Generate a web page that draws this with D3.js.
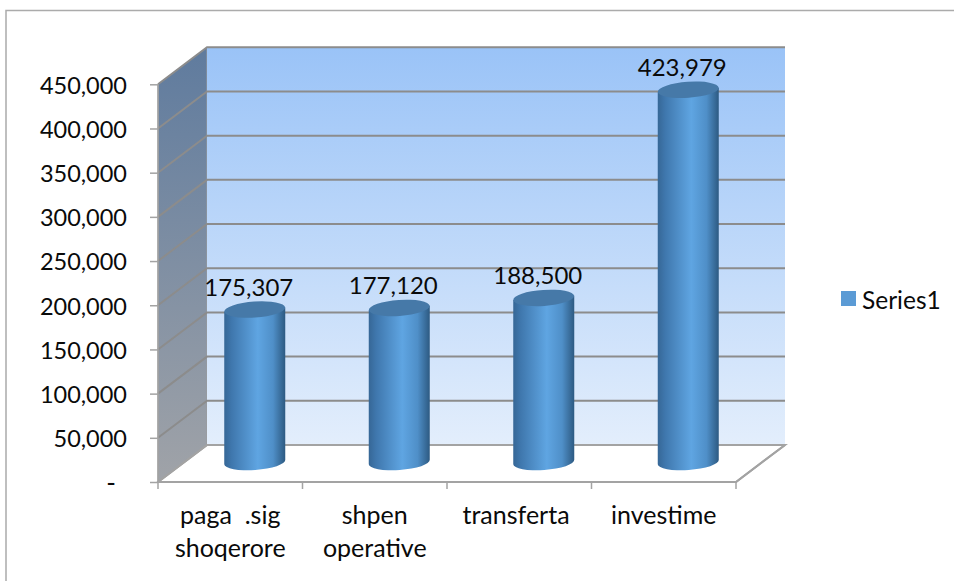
<!DOCTYPE html>
<meta charset="utf-8">
<style>
body { margin: 0; background: #fff; }
text { font-family: Lato, "Open Sans", sans-serif; fill: #0a0a0a; }
</style>
<svg width="954" height="581"></svg>
<script src="https://d3js.org/d3.v7.min.js"></script>
<script>
// values
var categories = ["paga  .sig|shoqerore", "shpen|operative", "transferta ", "investime"];
var values = [175307, 177120, 188500, 423979];
var yTicks = [0, 50000, 100000, 150000, 200000, 250000, 300000, 350000, 400000, 450000];
var seriesName = "Series1";

var svg = d3.select("svg");

// front plane of the fake 3d box, back wall is shifted by depth
var depthX = 49, depthY = -37;
var x = d3.scaleBand().domain(categories).range([158, 736]);
var y = d3.scaleLinear().domain([0, 450000]).range([482, 84.3]);
var fmt = d3.format(",");

var defs = svg.append("defs");

function gradient(id, x2, y2, stops) {
  var g = defs.append("linearGradient").attr("id", id)
      .attr("x1", 0).attr("y1", 0).attr("x2", x2).attr("y2", y2);
  stops.forEach(function(s) {
    g.append("stop").attr("offset", s[0]).attr("stop-color", s[1]);
  });
}
gradient("wall", 0, 1, [[0, "#9ac3f7"], [1, "#e3eefc"]]);
gradient("side", 0, 1, [[0, "#5f7b9e"], [1, "#a0a3a8"]]);
gradient("cyl", 1, 0, [[0, "#366796"], [0.12, "#3f77ad"], [0.55, "#5fa5e2"], [0.8, "#4f8fc8"], [1, "#2d5a82"]]);

// frame (only top and left edge are visible in the crop)
svg.append("path")
    .attr("d", "M6,581V10.5H954")
    .attr("fill", "none")
    .attr("stroke", "#ababab")
    .attr("stroke-width", 1.5);

var x0 = x.range()[0], x1 = x.range()[1];
var y0 = y(0), yT = y(450000);

// floor
svg.append("path")
    .attr("d", `M${x0},${y0}L${x0 + depthX},${y0 + depthY}H${x1 + depthX}L${x1},${y0}Z`)
    .attr("fill", "#fff")
    .attr("stroke", "#a3a3a3")
    .attr("stroke-width", 2);

// left wall
svg.append("path")
    .attr("d", `M${x0},${y0}L${x0 + depthX},${y0 + depthY}V${yT + depthY}L${x0},${yT}Z`)
    .attr("fill", "url(#side)")
    .attr("stroke", "#9a9a9a");

// back wall
svg.append("rect")
    .attr("x", x0 + depthX)
    .attr("y", yT + depthY)
    .attr("width", x1 - x0)
    .attr("height", y0 - yT)
    .attr("fill", "url(#wall)");

// gridlines, along the side wall and then across the back
svg.append("g").selectAll("path")
  .data(yTicks)
  .enter().append("path")
    .attr("d", function(d) {
      return `M${x0},${y(d)}L${x0 + depthX},${y(d) + depthY}H${x1 + depthX}`;
    })
    .attr("fill", "none")
    .attr("stroke", function(d) { return d ? "#8c8c8c" : "#a3a3a3"; })
    .attr("stroke-width", 2);

// floor edges on top of the walls
svg.append("path")
    .attr("d", `M${x0},${y0}H${x1}L${x1 + depthX},${y0 + depthY}`)
    .attr("fill", "none")
    .attr("stroke", "#a3a3a3")
    .attr("stroke-width", 2);

// axes
var yAxis = svg.append("g")
    .attr("transform", `translate(${x0},0)`)
    .call(d3.axisLeft(y)
      .tickValues(yTicks)
      .tickSize(8)
      .tickPadding(23)
      .tickFormat(function(d) { return d ? fmt(d) : "-"; }));
yAxis.select(".domain").attr("stroke", "#a3a3a3").attr("stroke-width", 1.5).attr("d", `M0,${yT}V${y0}`);
yAxis.selectAll("line").attr("stroke", "#a3a3a3").attr("stroke-width", 1.5);
yAxis.selectAll("text")
    .attr("font-size", 23.5)
    .attr("dy", "0.38em")
    .attr("font-family", null)
    .style("fill", "#0a0a0a");
// the zero label sits further left, it is an accounting style dash
yAxis.selectAll("text").filter(function(d) { return d === 0; }).attr("dx", -11).attr("font-size", 26);

var tickX = categories.map(function(c) { return x(c); }).concat([x1]);
svg.append("g").selectAll("line")
  .data(tickX)
  .enter().append("line")
    .attr("x1", function(d) { return d; })
    .attr("x2", function(d) { return d; })
    .attr("y1", y0)
    .attr("y2", y0 + 7)
    .attr("stroke", "#a3a3a3")
    .attr("stroke-width", 1.5);

// category labels
var labels = svg.append("g").selectAll("text")
  .data(categories)
  .enter().append("text")
    .attr("x", function(d) { return x(d) + x.bandwidth() / 2; })
    .attr("y", 524)
    .attr("text-anchor", "middle")
    .attr("font-size", 25)
    .style("white-space", "pre");
labels.selectAll("tspan")
  .data(function(d) { return d.split("|").map(function(t) { return { t: t, c: d }; }); })
  .enter().append("tspan")
    .attr("x", function(d) { return x(d.c) + x.bandwidth() / 2; })
    .attr("dy", function(d, i) { return i ? 33 : 0; })
    .text(function(d) { return d.t; });

// cylinders
var rx = 30.5, ry = 8, tilt = -4;
var cylOffset = -17.5, baseOffset = -20;

function cx(i) { return x(categories[i]) + x.bandwidth() / 2 + depthX / 2; }
function cTop(v) { return y(v) + cylOffset; }

var bars = svg.append("g").selectAll("g")
  .data(values)
  .enter().append("g");

var lift = rx * Math.sin(tilt * Math.PI / 180);

bars.append("path")
    .attr("d", function(d, i) {
      var c = cx(i), b = y(0) + baseOffset, t = cTop(d);
      return `M${c - rx},${t - lift}L${c - rx},${b - lift}` +
        `A${rx},${ry} ${tilt} 0 0 ${c + rx},${b + lift}` +
        `L${c + rx},${t + lift}Z`;
    })
    .attr("fill", "url(#cyl)");

bars.append("ellipse")
    .attr("rx", rx)
    .attr("ry", ry)
    .attr("transform", function(d, i) { return `translate(${cx(i)},${cTop(d)}) rotate(${tilt})`; })
    .attr("fill", "#4679a8");

// value labels
bars.append("text")
    .attr("x", function(d, i) { return cx(i) - 6; })
    .attr("y", function(d) { return cTop(d) - 13.5; })
    .attr("text-anchor", "middle")
    .attr("font-size", 24)
    .text(function(d) { return fmt(d); });

// legend
svg.append("rect")
    .attr("x", 841)
    .attr("y", 291)
    .attr("width", 15)
    .attr("height", 15)
    .attr("fill", "#5b9bd5");
svg.append("text")
    .attr("x", 862)
    .attr("y", 309)
    .attr("font-size", 24.5)
    .text(seriesName);
</script>
